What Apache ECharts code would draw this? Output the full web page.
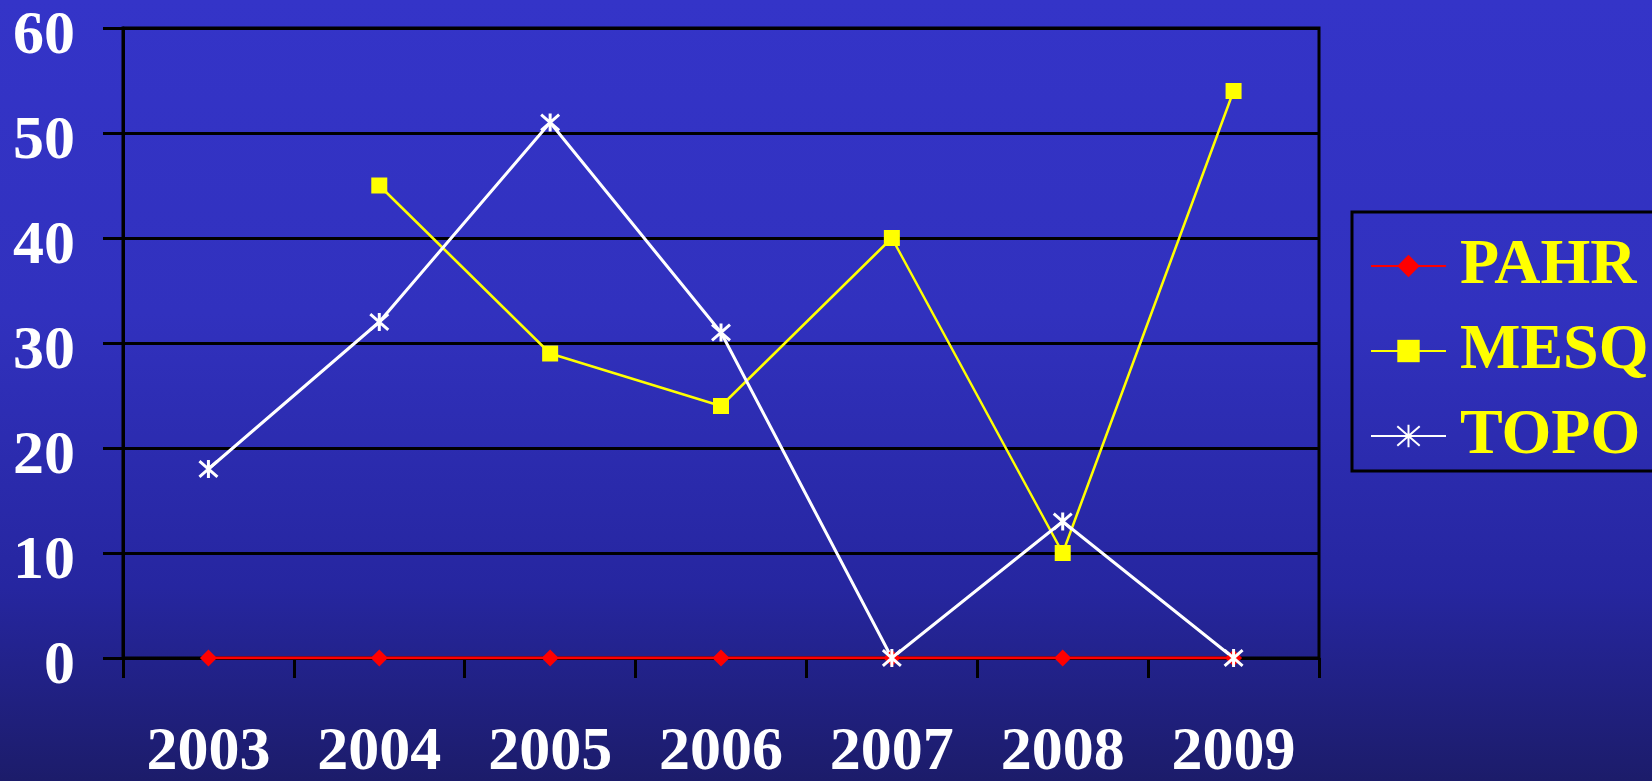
<!DOCTYPE html>
<html><head><meta charset="utf-8">
<script src="https://cdn.jsdelivr.net/npm/echarts@6/dist/echarts.min.js"></script>
<style>html,body{margin:0;padding:0;}#c{width:1652px;height:781px;}</style>
</head><body><div id="c"></div>
<script>
var categories = ['2003','2004','2005','2006','2007','2008','2009'];
var pahr = [0,0,0,0,0,0,0];
var mesq = [null,45,29,24,40,10,54];
var topo = [18,32,51,31,0,13,0];
var yTicks = [0,10,20,30,40,50,60];

var font = '"Liberation Serif","Times New Roman",serif';
var star = 'path://M-1,-1L1,1M-1,1L1,-1M0,-1.15L0,1.15';
var chart = echarts.init(document.getElementById('c'));
chart.setOption({
  animation:false,
  backgroundColor:{type:'linear',x:0,y:0,x2:0,y2:1,colorStops:[
    {offset:0,color:'#3434C8'},{offset:0.4,color:'#3131BE'},{offset:0.75,color:'#2626A0'},{offset:1,color:'#1C1C6A'}]},
  grid:{left:123,right:333,top:28,bottom:123,outerBoundsMode:'none',containLabel:false,
    show:true,borderColor:'#000',borderWidth:3,backgroundColor:'transparent'},
  legend:{
    left:1352, top:212, orient:'vertical',
    padding:[20,40,1,18], itemGap:17, itemWidth:75, itemHeight:28,
    borderColor:'#000', borderWidth:3,
    data:['PAHR','MESQ','TOPO'],
    textStyle:{color:'#FFFF00',fontFamily:font,fontWeight:'bold',fontSize:64,lineHeight:62,padding:[6,0,0,9]}
  },
  xAxis:{type:'category',data:categories,boundaryGap:true,
    axisLine:{lineStyle:{color:'#000',width:3}},
    axisTick:{show:true,length:20,lineStyle:{color:'#000',width:3}},
    axisLabel:{color:'#fff',fontFamily:font,fontWeight:'bold',fontSize:62,margin:64}
  },
  yAxis:{type:'value',min:0,max:60,interval:10,
    axisLine:{show:true,lineStyle:{color:'#000',width:3}},
    axisTick:{show:true,length:20,lineStyle:{color:'#000',width:3}},
    splitLine:{show:true,lineStyle:{color:'#000',width:3}},
    axisLabel:{color:'#fff',fontFamily:font,fontWeight:'bold',fontSize:62,margin:48,verticalAlign:'top',lineHeight:17,
      formatter:function(v){return yTicks.indexOf(v)>=0?String(v):'';}}
  },
  series:[
    {name:'PAHR',type:'line',data:pahr,symbol:'diamond',symbolSize:17,
      lineStyle:{color:'#FF0000',width:3},itemStyle:{color:'#FF0000'}},
    {name:'MESQ',type:'line',data:mesq,symbol:'rect',symbolSize:16,
      lineStyle:{color:'#FFFF00',width:2.5},itemStyle:{color:'#FFFF00'}},
    {name:'TOPO',type:'line',data:topo,symbol:star,symbolSize:18,
      lineStyle:{color:'#FFFFFF',width:3},itemStyle:{color:'#FFFFFF',borderColor:'#FFFFFF',borderWidth:3}}
  ]
});
</script></body></html>
